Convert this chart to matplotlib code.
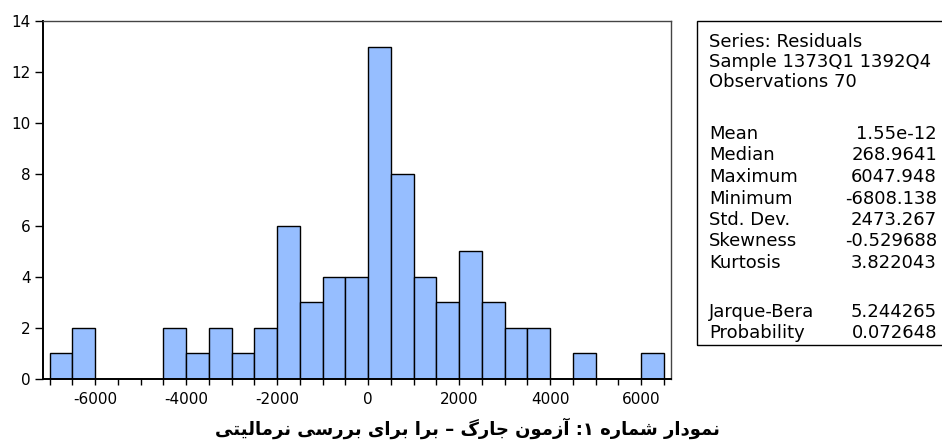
import numpy as np
import matplotlib
matplotlib.use("Agg")
import matplotlib.pyplot as plt
from matplotlib.patches import Rectangle
from matplotlib.ticker import MultipleLocator

# histogram of residuals, bins of width 500 starting at -7000
bin_left = np.arange(-7000, 6500, 500)
counts = [1, 2, 0, 0, 0, 2, 1, 2, 1, 2, 6, 3, 4, 4,
          13, 8, 4, 3, 5, 3, 2, 2, 0, 1, 0, 0, 1]

stat_header = ["Series: Residuals", "Sample 1373Q1 1392Q4", "Observations 70"]
stat_names = ["Mean", "Median", "Maximum", "Minimum", "Std. Dev.", "Skewness", "Kurtosis"]
stat_values = ["1.55e-12", "268.9641", "6047.948", "-6808.138", "2473.267", "-0.529688", "3.822043"]
test_names = ["Jarque-Bera", "Probability"]
test_values = ["5.244265", "0.072648"]

title = "نمودار شماره ۱: آزمون جارگ – برا برای بررسی نرمالیتی"

# matplotlib has no arabic shaping, so pick presentation forms by hand
DUAL = {
    'ب': (0xFE8F, 0xFE90, 0xFE91, 0xFE92), 'ت': (0xFE95, 0xFE96, 0xFE97, 0xFE98),
    'ج': (0xFE9D, 0xFE9E, 0xFE9F, 0xFEA0), 'س': (0xFEB1, 0xFEB2, 0xFEB3, 0xFEB4),
    'ش': (0xFEB5, 0xFEB6, 0xFEB7, 0xFEB8), 'ل': (0xFEDD, 0xFEDE, 0xFEDF, 0xFEE0),
    'م': (0xFEE1, 0xFEE2, 0xFEE3, 0xFEE4), 'ن': (0xFEE5, 0xFEE6, 0xFEE7, 0xFEE8),
    'ه': (0xFEE9, 0xFEEA, 0xFEEB, 0xFEEC), 'ی': (0xFBFC, 0xFBFD, 0xFBFE, 0xFBFF),
    'گ': (0xFB92, 0xFB93, 0xFB94, 0xFB95),
}
RIGHT = {
    'ا': (0xFE8D, 0xFE8E), 'آ': (0xFE81, 0xFE82), 'د': (0xFEA9, 0xFEAA),
    'ر': (0xFEAD, 0xFEAE), 'ز': (0xFEAF, 0xFEB0), 'و': (0xFEED, 0xFEEE),
}


def shape(text):
    out = []
    for i, ch in enumerate(text):
        prev = text[i - 1] if i > 0 else ''
        nxt = text[i + 1] if i + 1 < len(text) else ''
        jp = prev in DUAL
        jn = nxt in DUAL or nxt in RIGHT
        if ch in DUAL:
            f = DUAL[ch]
            c = f[3] if (jp and jn) else f[1] if jp else f[2] if jn else f[0]
            out.append(chr(c))
        elif ch in RIGHT:
            f = RIGHT[ch]
            out.append(chr(f[1] if jp else f[0]))
        else:
            out.append(ch)
    return ''.join(out)[::-1]


plt.rcParams['font.family'] = ['DejaVu Sans']
plt.rcParams['axes.unicode_minus'] = False

W, H = 942, 446
fig = plt.figure(figsize=(W / 100, H / 100), dpi=100)
ax = fig.add_axes([43.3 / W, 1 - 379 / H, (670.7 - 43.3) / W, (379 - 21) / H])

ax.bar(bin_left, counts, width=500, align='edge', color='#96BEFF',
       edgecolor='black', linewidth=1.0)

ax.set_xlim(-7140, 6650)
ax.set_ylim(0, 14)
ax.xaxis.set_major_locator(MultipleLocator(2000))
ax.xaxis.set_minor_locator(MultipleLocator(500))
ax.yaxis.set_major_locator(MultipleLocator(2))
ax.tick_params(axis='both', which='both', direction='out', width=1,
               labelsize=11, color='black')
ax.tick_params(axis='x', which='both', length=4, pad=5)
ax.tick_params(axis='y', length=6, pad=3)
for s in ['left', 'bottom']:
    ax.spines[s].set_linewidth(1.4)
    ax.spines[s].set_color('black')
for s in ['top', 'right']:
    ax.spines[s].set_linewidth(1.0)
    ax.spines[s].set_color('#444444')

# statistics box
box_top, box_bottom = 21, 345
fig.patches.append(Rectangle((696.5 / W, 1 - box_bottom / H), (960 - 696.5) / W,
                             (box_bottom - box_top) / H,
                             transform=fig.transFigure, fill=False,
                             edgecolor='black', linewidth=1.0, clip_on=False))


def put_row(ypix, name, val=""):
    y = 1 - ypix / H
    fig.text(709 / W, y, name, fontsize=13, ha='left', va='center')
    if val:
        fig.text(937 / W, y, val, fontsize=13, ha='right', va='center')


for i, name in enumerate(stat_header):
    put_row(42 + i * 20, name)
for i, (name, val) in enumerate(zip(stat_names, stat_values)):
    put_row(134 + i * 21.5, name, val)
for i, (name, val) in enumerate(zip(test_names, test_values)):
    put_row(312 + i * 21, name, val)

fig.text(467 / W, 1 - 428 / H, shape(title), fontsize=13, fontweight='bold',
         ha='center', va='center')

fig.savefig("out.png", dpi=100)
